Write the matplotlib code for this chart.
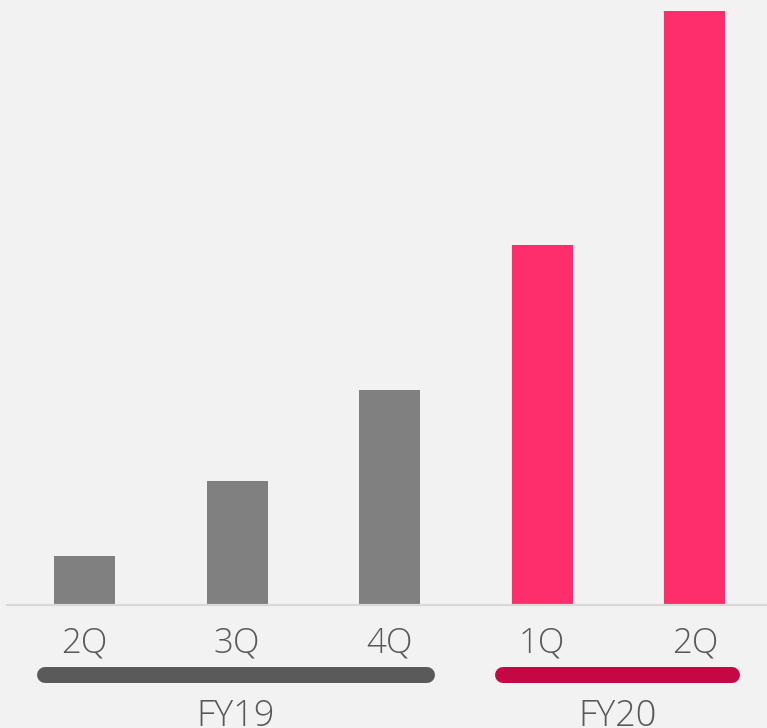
import matplotlib
matplotlib.use("Agg")
import matplotlib.pyplot as plt
import matplotlib.transforms as mtransforms

quarters = ["2Q", "3Q", "4Q", "1Q", "2Q"]
values = [0.49, 1.24, 2.15, 3.60, 5.94]
fiscal_years = ["FY19", "FY19", "FY19", "FY20", "FY20"]
groups = ["FY19", "FY20"]

bar_colors = {"FY19": "#808080", "FY20": "#fe2d6b"}
group_colors = {"FY19": "#5a5a5a", "FY20": "#c50845"}
bg = "#f2f2f2"
text_color = "#595959"

W, H, dpi = 767, 728, 100
fig = plt.figure(figsize=(W / dpi, H / dpi), dpi=dpi, facecolor=bg)
ax = fig.add_axes([7 / W, 123 / H, 1 - 7 / W, 1 - 123 / H])
ax.set_facecolor(bg)

x = list(range(len(values)))
ax.bar(x, values, width=0.40, color=[bar_colors[f] for f in fiscal_years], zorder=2)
ax.set_xlim(-0.508, 4.473)
ax.set_ylim(0, max(values) * 605 / 594)
for s in ["top", "right", "left"]:
    ax.spines[s].set_visible(False)
ax.spines["bottom"].set_color("#d9d9d9")
ax.spines["bottom"].set_linewidth(1.6)
ax.set_xticks([])
ax.set_yticks([])

font = ["Open Sans", "DejaVu Sans"]
trans = mtransforms.blended_transform_factory(ax.transData, fig.transFigure)

for xi, q in zip(x, quarters):
    ax.text(xi, 1 - 653 / H, q, transform=trans, ha="center", va="baseline",
            fontsize=25, color=text_color, family=font, fontweight="light",
            fontstretch="expanded", clip_on=False)

for g in groups:
    idx = [i for i, f in enumerate(fiscal_years) if f == g]
    x0, x1 = idx[0] - 0.26, idx[-1] + 0.245
    ax.plot([x0, x1], [1 - 675 / H] * 2, transform=trans, color=group_colors[g],
            lw=11.5, solid_capstyle="round", clip_on=False)
    ax.text((x0 + x1) / 2, 1 - 726 / H, g, transform=trans, ha="center",
            va="baseline", fontsize=26, color=text_color, family=font,
            fontweight="light", clip_on=False)

fig.savefig("out.png", dpi=dpi, facecolor=bg)
